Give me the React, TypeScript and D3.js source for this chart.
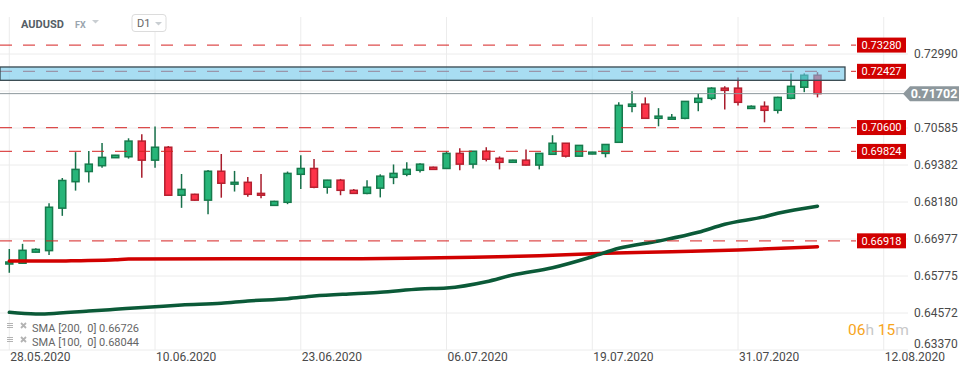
import React from 'react'
import * as d3 from 'd3'

// daily candles, AUDUSD (one bar per trading day incl. sunday bars)
const opens = [0.66165, 0.6619, 0.6655, 0.666, 0.6798, 0.6884, 0.6917, 0.6936, 0.6962, 0.6965, 0.7016, 0.6954, 0.6996, 0.684, 0.6843, 0.6824, 0.6918, 0.6876, 0.6882, 0.6846, 0.6807, 0.6817, 0.6908, 0.6927, 0.6866, 0.6889, 0.6856, 0.6846, 0.6863, 0.6898, 0.6908, 0.6921, 0.6931, 0.6927, 0.6976, 0.6941, 0.6983, 0.696, 0.6947, 0.6954, 0.6938, 0.6973, 0.7009, 0.6967, 0.6974, 0.6976, 0.7012, 0.7129, 0.7136, 0.709, 0.7087, 0.709, 0.7142, 0.7155, 0.7188, 0.7188, 0.7122, 0.7129, 0.7116, 0.7155, 0.7191, 0.723]
const highs = [0.66653, 0.6682, 0.6668, 0.6814, 0.6896, 0.698, 0.6984, 0.701, 0.6971, 0.7025, 0.7038, 0.7063, 0.7, 0.6909, 0.6845, 0.6922, 0.6974, 0.6919, 0.6899, 0.6909, 0.6822, 0.6917, 0.697, 0.6958, 0.689, 0.6893, 0.686, 0.6889, 0.6908, 0.694, 0.6947, 0.6944, 0.6933, 0.6983, 0.6993, 0.6984, 0.6996, 0.6966, 0.6955, 0.6989, 0.6977, 0.7035, 0.701, 0.7003, 0.6981, 0.7006, 0.7142, 0.7178, 0.7158, 0.7123, 0.7104, 0.7146, 0.7171, 0.7191, 0.7194, 0.7223, 0.7132, 0.7145, 0.716, 0.7236, 0.7236, 0.724]
const lows = [0.6588, 0.6617, 0.6654, 0.6646, 0.6773, 0.6855, 0.6881, 0.6929, 0.6962, 0.6959, 0.6897, 0.6929, 0.6839, 0.6799, 0.6822, 0.6778, 0.6832, 0.6852, 0.6835, 0.683, 0.6806, 0.6811, 0.686, 0.6863, 0.6845, 0.684, 0.6845, 0.6843, 0.6833, 0.6876, 0.6902, 0.6914, 0.6923, 0.6926, 0.6921, 0.6927, 0.695, 0.6924, 0.6946, 0.6937, 0.6924, 0.6972, 0.6963, 0.6966, 0.6973, 0.6963, 0.7011, 0.711, 0.7089, 0.7064, 0.7086, 0.7087, 0.7113, 0.7149, 0.7119, 0.7132, 0.7121, 0.7077, 0.7106, 0.7152, 0.7175, 0.7158]
const closes = [0.6623, 0.6661, 0.6664, 0.6801, 0.6888, 0.6924, 0.6941, 0.6963, 0.697, 0.7016, 0.6954, 0.6996, 0.684, 0.6859, 0.6824, 0.6918, 0.6879, 0.6882, 0.6843, 0.684, 0.682, 0.6911, 0.6927, 0.6866, 0.6889, 0.6856, 0.6846, 0.6866, 0.6902, 0.6911, 0.6924, 0.6941, 0.6924, 0.6976, 0.6941, 0.6983, 0.6957, 0.6947, 0.6954, 0.6938, 0.6976, 0.7009, 0.6967, 0.7002, 0.698, 0.7005, 0.7132, 0.7136, 0.709, 0.7097, 0.7093, 0.7145, 0.7155, 0.7188, 0.7181, 0.7142, 0.7129, 0.7116, 0.7158, 0.7194, 0.723, 0.71702]

// moving averages, read at some bars
const sma100Bars = [0, 2, 3, 6, 8, 11, 13, 16, 18, 21, 23, 26, 28, 31, 33, 36, 38, 41, 44, 46, 49, 52, 54, 57, 58, 61]
const sma100Vals = [0.64595, 0.6454, 0.6455, 0.64638, 0.64693, 0.64777, 0.64833, 0.64888, 0.64962, 0.65037, 0.65125, 0.652, 0.65245, 0.65352, 0.65385, 0.6559, 0.65808, 0.66045, 0.66402, 0.66675, 0.66912, 0.67195, 0.67455, 0.67702, 0.67813, 0.68044]
const sma200Bars = [0, 4, 5, 8, 9, 17, 24, 30, 35, 40, 45, 50, 55, 61]
const sma200Vals = [0.66263, 0.66263, 0.66273, 0.66305, 0.66328, 0.66337, 0.66337, 0.6635, 0.66383, 0.66435, 0.66513, 0.66565, 0.6662, 0.66726]

const yTicks = [0.7299, 0.71787, 0.70585, 0.69382, 0.6818, 0.66977, 0.65775, 0.64572, 0.6337]
const levels = [0.7328, 0.72427, 0.706, 0.69824, 0.66918]
const zone = [0.72568, 0.72135]
const lastPrice = 0.71702

const dateLabels = ['28.05.2020', '10.06.2020', '23.06.2020', '06.07.2020', '19.07.2020', '31.07.2020', '12.08.2020']
const dateBars = [0, 11, 22, 33, 44, 55, 66]

const legend = ['SMA [200,  0] 0.66726', 'SMA [100,  0] 0.68044']

const W = 974, H = 375
const font = 'Roboto, sans-serif'

export default function App() {
  const x = d3.scaleLinear().domain([0, 61]).range([9.3, 817.5])
  const y = d3.scaleLinear().domain([0.6337, 0.7299]).range([350, 54])
  const fmt = d3.format('.5f')

  const line = d3.line<[number, number]>()
    .x(d => x(d[0]))
    .y(d => y(d[1]))
    .curve(d3.curveMonotoneX)

  const sma100 = line(sma100Bars.map((b, i) => [b, sma100Vals[i]]))
  const sma200 = line(sma200Bars.map((b, i) => [b, sma200Vals[i]]))

  const bw = 7
  const yl = y(lastPrice)
  // the price tag sits on top of the tick it covers
  const tickLabels = yTicks.filter(t => Math.abs(y(t) - yl) > 12)

  return (
    <div style={{position: 'absolute', left: 0, top: 0}}>
      <svg width={W} height={H} style={{display: 'block', background: '#fff', fontFamily: font}}>
        {/* grid */}
        {yTicks.map(t => (
          <line key={'h' + t} x1={0} x2={908} y1={y(t)} y2={y(t)} stroke="#ececec" />
        ))}
        {dateBars.map(b => (
          <line key={'v' + b} x1={x(b)} x2={x(b)} y1={17} y2={350} stroke="#ececec" />
        ))}

        {/* candles */}
        {opens.map((o, i) => {
          const c = closes[i]
          const up = c >= o
          const top = y(Math.max(o, c)), bot = y(Math.min(o, c))
          return (
            <g key={'c' + i}>
              <line x1={x(i)} x2={x(i)} y1={y(highs[i])} y2={y(lows[i])}
                stroke={up ? '#17704a' : '#a81c2c'} strokeWidth={1.5} />
              <rect x={x(i) - bw / 2} y={top} width={bw} height={Math.max(bot - top, 1.5)}
                fill={up ? '#27b579' : '#fd3349'} stroke={up ? '#167a4c' : '#b5202f'} strokeWidth={1.5} />
            </g>
          )
        })}

        {/* moving averages */}
        <path d={sma200 || ''} fill="none" stroke="#d10000" strokeWidth={3.5} strokeLinecap="round" />
        <path d={sma100 || ''} fill="none" stroke="#0b5a38" strokeWidth={3.5} strokeLinecap="round" />

        {/* horizontal levels */}
        {levels.map(l => (
          <line key={'l' + l} x1={0} x2={856} y1={y(l)} y2={y(l)} stroke="#d42020"
            strokeOpacity={0.8} strokeWidth={1.3} strokeDasharray="12,11" />
        ))}

        {/* zone */}
        <rect x={0} y={y(zone[0])} width={845} height={y(zone[1]) - y(zone[0])}
          fill="#6ec6ea" fillOpacity={0.6} stroke="#37474f" strokeWidth={1.3} />

        {/* last price line */}
        <line x1={0} x2={905} y1={yl} y2={yl} stroke="#8d979c" strokeWidth={1} />

        {/* level labels */}
        {levels.map(l => (
          <g key={'lb' + l}>
            <rect x={857} y={y(l) - 7.5} width={49} height={15} fill="#d10000" />
            <text x={881.5} y={y(l)} dy="0.35em" textAnchor="middle" fill="#fff" fontSize={11}>{fmt(l)}</text>
          </g>
        ))}

        {/* right axis */}
        {tickLabels.map(t => (
          <text key={'t' + t} x={914} y={Math.min(y(t), 344)} dy="0.35em" fill="#4a4a4a" fontSize={12}>{fmt(t)}</text>
        ))}

        {/* last price tag */}
        <path d={`M903,${yl} L910,${yl - 7.5} L959,${yl - 7.5} L959,${yl + 7.5} L910,${yl + 7.5} Z`} fill="#8d979c" />
        <text x={934} y={yl} dy="0.36em" textAnchor="middle" fill="#fff" fontSize={12.5} fontWeight="bold">{fmt(lastPrice)}</text>

        {/* date axis */}
        {dateBars.map((b, i) => (
          <text key={'d' + b} x={x(b) + 1} y={357} dy="0.35em" fill="#4a4a4a" fontSize={12}>{dateLabels[i]}</text>
        ))}

        {/* header */}
        <text x={21} y={24} dy="0.35em" fill="#555e66" fontSize={11} fontWeight="bold">AUDUSD</text>
        <text x={75} y={25} dy="0.35em" fill="#9aa5ae" fontSize={9} fontWeight="bold">FX</text>
        <path d="M92,20 L99,20 L95.5,23.5 Z" fill="#c9ced2" />
        <rect x={132} y={14.5} width={34} height={17} rx={3} fill="#fff" stroke="#dcdcdc" />
        <text x={137} y={23.5} dy="0.35em" fill="#666" fontSize={11}>D1</text>
        <path d="M155,22 L162,22 L158.5,25.5 Z" fill="#c9ced2" />

        {/* legend */}
        {legend.map((s, i) => (
          <g key={'lg' + i} transform={`translate(0,${328 + i * 14})`}>
            <path d="M7,-4.5 H13 M7,-2.5 H13 M7,-0.5 H13" stroke="#b3b3b3" strokeWidth={1.2} />
            <path d="M21,-5 L26,0 M26,-5 L21,0" stroke="#b3b3b3" strokeWidth={1.8} />
            <text x={32} y={0} dy="0.35em" fill="#666" fontSize={11} style={{whiteSpace: 'pre'}}>{s}</text>
          </g>
        ))}

        {/* countdown */}
        <text x={848} y={330} dy="0.35em" fontSize={15.5}>
          <tspan fill="#f7a51c">06</tspan>
          <tspan fill="#c8c8c8">h </tspan>
          <tspan fill="#f7a51c">15</tspan>
          <tspan fill="#c8c8c8">m</tspan>
        </text>
      </svg>
    </div>
  )
}
